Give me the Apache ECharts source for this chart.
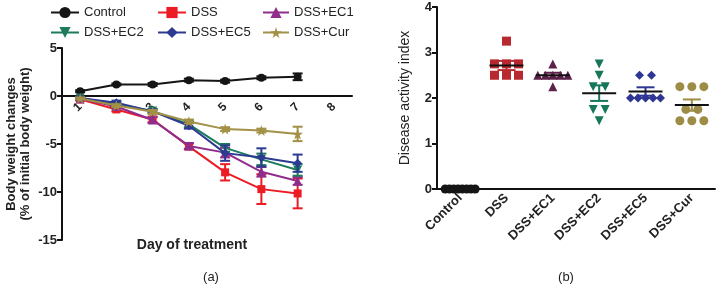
<!DOCTYPE html>
<html>
<head>
  <meta charset="utf-8">
  <script src="https://cdn.jsdelivr.net/npm/echarts@6/dist/echarts.min.js"></script>
</head>
<body style="margin: 0; background: #fff">
  <div id="container" style="width: 716px; height: 284px"></div>
  <script type="text/javascript">
    // (a) body weight change, mean and SEM per day
    var days = ['1', '2', '3', '4', '5', '6', '7', '8'];
    var groupNames = ['Control', 'DSS', 'DSS+EC1', 'DSS+EC2', 'DSS+EC5', 'DSS+Cur'];

    var controlMean = [0.5, 1.2, 1.2, 1.65, 1.55, 1.9, 2.0];
    var controlErr  = [0.1, 0.1, 0.15, 0.15, 0.15, 0.15, 0.35];
    var dssMean = [-0.35, -1.4, -2.45, -5.25, -7.95, -9.7, -10.15];
    var dssErr  = [0.1, 0.2, 0.3, 0.3, 0.85, 1.55, 1.55];
    var ec1Mean = [-0.3, -1.1, -2.5, -5.2, -5.9, -7.9, -8.85];
    var ec1Err  = [0.1, 0.2, 0.3, 0.3, 0.5, 0.5, 0.4];
    var ec2Mean = [-0.2, -0.85, -1.55, -2.95, -5.4, -6.6, -7.7];
    var ec2Err  = [0.1, 0.2, 0.2, 0.3, 0.4, 0.6, 0.6];
    var ec5Mean = [-0.2, -0.7, -1.6, -3.1, -5.95, -6.4, -7.0];
    var ec5Err  = [0.1, 0.2, 0.2, 0.3, 0.8, 0.95, 0.9];
    var curMean = [-0.25, -1.0, -1.65, -2.65, -3.45, -3.6, -3.95];
    var curErr  = [0.1, 0.15, 0.2, 0.2, 0.2, 0.2, 0.75];

    // (b) disease activity index, one value per animal
    var daiControl = [0, 0, 0, 0, 0, 0, 0, 0];
    var daiDSS = [3.25, 2.75, 2.75, 2.75, 2.5, 2.5, 2.5];
    var daiEC1 = [2.75, 2.5, 2.5, 2.5, 2.5, 2.5, 2.25];
    var daiEC2 = [2.75, 2.5, 2.25, 2.25, 1.75, 1.75, 1.5];
    var daiEC5 = [2.5, 2.5, 2, 2, 2, 2, 2];
    var daiCur = [2.25, 2.25, 2.25, 1.75, 1.75, 1.5, 1.5, 1.5];

    var lineColors = ['#151515', '#ec1c24', '#8f2d8c', '#1d7a5c', '#2c3a92', '#a29146'];
    var dotColors  = ['#151515', '#b8292f', '#5c2249', '#17775a', '#2e3592', '#9d8c46'];
    var downTri = 'path://M0,0 L10,0 L5,9 Z';
    var star = 'path://M50,0 L61,35 L98,35 L68,57 L79,91 L50,70 L21,91 L32,57 L2,35 L39,35 Z';
    var symbols = ['circle', 'rect', 'triangle', downTri, 'diamond', star];
    var dotSymbols = ['circle', 'rect', 'triangle', downTri, 'diamond', 'circle'];
    var sizes = [8, 8, 9, 9, 9, 11];

    var means = [controlMean, dssMean, ec1Mean, ec2Mean, ec5Mean, curMean];
    var errs = [controlErr, dssErr, ec1Err, ec2Err, ec5Err, curErr];
    var daiData = [daiControl, daiDSS, daiEC1, daiEC2, daiEC5, daiCur];

    var font = 'Liberation Sans, Arial, sans-serif';

    function errRender(params, api) {
      var x = api.value(0), m = api.value(1), e = api.value(2);
      var hi = api.coord([x, m + e]);
      var lo = api.coord([x, m - e]);
      var w = 5;
      var st = { stroke: api.visual('color'), lineWidth: 2 };
      return {
        type: 'group',
        children: [
          { type: 'line', shape: { x1: hi[0], y1: hi[1], x2: lo[0], y2: lo[1] }, style: st },
          { type: 'line', shape: { x1: hi[0] - w, y1: hi[1], x2: hi[0] + w, y2: hi[1] }, style: st },
          { type: 'line', shape: { x1: lo[0] - w, y1: lo[1], x2: lo[0] + w, y2: lo[1] }, style: st }
        ]
      };
    }

    // mean (black) and SEM (group colour) on the scatter plot
    function meanRender(params, api) {
      var x = api.value(0), m = api.value(1), e = api.value(2);
      var c = api.coord([x, m]);
      var hi = api.coord([x, m + e]);
      var lo = api.coord([x, m - e]);
      var col = api.visual('color');
      var st = { stroke: col, lineWidth: 2 };
      return {
        type: 'group',
        children: [
          { type: 'line', shape: { x1: hi[0], y1: hi[1], x2: lo[0], y2: lo[1] }, style: st },
          { type: 'line', shape: { x1: hi[0] - 9, y1: hi[1], x2: hi[0] + 9, y2: hi[1] }, style: st },
          { type: 'line', shape: { x1: lo[0] - 9, y1: lo[1], x2: lo[0] + 9, y2: lo[1] }, style: st },
          { type: 'line', shape: { x1: c[0] - 17, y1: c[1], x2: c[0] + 17, y2: c[1] }, style: { stroke: '#111', lineWidth: 2 } }
        ]
      };
    }

    // spread equal values sideways, like a dot plot
    function spread(values, gi) {
      var rows = {};
      values.forEach(function (v) { rows[v] = (rows[v] || 0) + 1; });
      var seen = {};
      return values.map(function (v) {
        var n = rows[v];
        var k = seen[v] || 0;
        seen[v] = k + 1;
        var gap = n > 1 ? Math.min(12, 30 / (n - 1)) : 0;
        return { value: [gi, v], symbolOffset: [(k - (n - 1) / 2) * gap, 0] };
      });
    }

    var series = [];
    for (var i = 0; i < groupNames.length; i++) {
      var ed = means[i].map(function (m, d) { return [d, m, errs[i][d]]; });
      series.push({
        type: 'custom',
        xAxisIndex: 0, yAxisIndex: 0,
        renderItem: errRender,
        itemStyle: { color: lineColors[i] },
        data: ed,
        z: 2 + i
      });
      series.push({
        name: groupNames[i],
        type: 'line',
        xAxisIndex: 0, yAxisIndex: 0,
        data: means[i],
        symbol: symbols[i],
        symbolSize: sizes[i],
        showAllSymbol: true,
        color: lineColors[i],
        lineStyle: { width: 2, color: lineColors[i] },
        itemStyle: { color: lineColors[i] },
        z: 2 + i
      });
    }

    for (var g = 0; g < groupNames.length; g++) {
      var vals = daiData[g];
      var mean = vals.reduce(function (a, b) { return a + b; }, 0) / vals.length;
      var ss = vals.reduce(function (a, b) { return a + (b - mean) * (b - mean); }, 0);
      var sem = Math.sqrt(ss / (vals.length - 1)) / Math.sqrt(vals.length);
      series.push({
        name: 'dai ' + groupNames[g],
        type: 'scatter',
        xAxisIndex: 1, yAxisIndex: 1,
        symbol: dotSymbols[g],
        symbolSize: 9,
        itemStyle: { color: dotColors[g], opacity: 1 },
        data: spread(vals, g),
        z: 3
      });
      if (g > 0) {
        series.push({
          type: 'custom',
          xAxisIndex: 1, yAxisIndex: 1,
          renderItem: meanRender,
          itemStyle: { color: dotColors[g] },
          data: [[g, mean, sem]],
          z: 4
        });
      }
    }

    var legendBase = {
      orient: 'vertical',
      top: 6,
      padding: 0,
      itemHeight: 14,
      itemGap: 7,
      textStyle: { fontSize: 13, color: '#222', fontFamily: font }
    };

    var option = {
      animation: false,
      backgroundColor: '#fff',
      legend: [
        Object.assign({}, legendBase, { left: 50, itemWidth: 28, data: ['Control', 'DSS+EC2'] }),
        Object.assign({}, legendBase, { left: 157, itemWidth: 28, data: ['DSS', 'DSS+EC5'] }),
        Object.assign({}, legendBase, { left: 262, itemWidth: 26, data: ['DSS+EC1', 'DSS+Cur'] })
      ],
      grid: [
        { left: 62, top: 48, width: 290, height: 192 },
        { left: 437, top: 7, width: 278, height: 182 }
      ],
      xAxis: [
        {
          type: 'category',
          gridIndex: 0,
          data: days,
          boundaryGap: true,
          // axis sits on the zero line (0 is 144px above the bottom of the grid)
          offset: -144,
          axisLine: { onZero: false, lineStyle: { color: '#111', width: 2 } },
          axisTick: { alignWithLabel: true, length: 5, lineStyle: { color: '#111', width: 2 } },
          axisLabel: { rotate: 45, margin: 9, fontSize: 12, fontWeight: 'bold', color: '#222', fontFamily: font },
          splitLine: { show: false }
        },
        {
          type: 'category',
          gridIndex: 1,
          data: groupNames,
          boundaryGap: true,
          axisLine: { lineStyle: { color: '#111', width: 2 } },
          axisTick: { alignWithLabel: true, length: 5, lineStyle: { color: '#111', width: 2 } },
          axisLabel: { rotate: 45, margin: 7, fontSize: 13, fontWeight: 'bold', color: '#222', fontFamily: font },
          splitLine: { show: false }
        }
      ],
      yAxis: [
        {
          type: 'value',
          gridIndex: 0,
          min: -15, max: 5, interval: 5,
          name: 'Body weight changes\n(% of initial body weight)',
          nameLocation: 'middle',
          nameGap: 30,
          nameTextStyle: { fontSize: 13, fontWeight: 'bold', color: '#222', fontFamily: font, lineHeight: 14 },
          axisLine: { show: true, lineStyle: { color: '#111', width: 2 } },
          axisTick: { show: true, length: 5, lineStyle: { color: '#111', width: 2 } },
          axisLabel: { fontSize: 13, fontWeight: 'bold', color: '#222', margin: 5, fontFamily: font },
          splitLine: { show: false }
        },
        {
          type: 'value',
          gridIndex: 1,
          min: 0, max: 4, interval: 1,
          name: 'Disease activity index',
          nameLocation: 'middle',
          nameGap: 25,
          nameTextStyle: { fontSize: 14, color: '#222', fontFamily: font },
          axisLine: { show: true, lineStyle: { color: '#111', width: 2 } },
          axisTick: { show: true, length: 5, lineStyle: { color: '#111', width: 2 } },
          axisLabel: { fontSize: 13, fontWeight: 'bold', color: '#222', margin: 5, fontFamily: font },
          splitLine: { show: false }
        }
      ],
      graphic: [
        { type: 'text', x: 192, y: 245, style: { text: 'Day of treatment', font: 'bold 14px ' + font, fill: '#222', textAlign: 'center', textVerticalAlign: 'middle' } },
        { type: 'text', x: 211, y: 277, style: { text: '(a)', font: '13px ' + font, fill: '#222', textAlign: 'center', textVerticalAlign: 'middle' } },
        { type: 'text', x: 566, y: 277, style: { text: '(b)', font: '13px ' + font, fill: '#222', textAlign: 'center', textVerticalAlign: 'middle' } }
      ],
      series: series
    };

    var myChart = echarts.init(document.getElementById('container'), null, { renderer: 'canvas' });
    myChart.setOption(option);
  </script>
</body>
</html>
